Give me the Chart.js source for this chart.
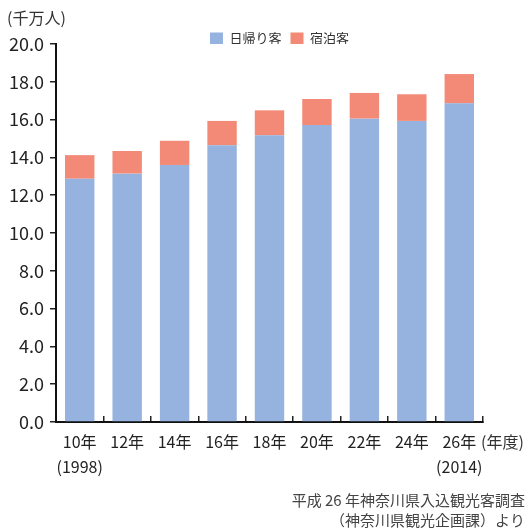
<!DOCTYPE html>
<html>
<head>
<meta charset="utf-8">
<script src="https://cdn.jsdelivr.net/npm/chart.js@4"></script>
<style>
  body { margin: 0; background: #fff; }
  #wrap { width: 529px; height: 531px; position: relative; }
</style>
</head>
<body>
<div id="wrap"><canvas id="visitorChart"></canvas></div>
<script>
const years = [['10年', '(1998)'], '12年', '14年', '16年', '18年', '20年', '22年', '24年', ['26年', '(2014)']];
const dayTrip = [12.87, 13.14, 13.60, 14.64, 15.17, 15.71, 16.05, 15.93, 16.86];
const overnight = [1.25, 1.20, 1.28, 1.29, 1.32, 1.38, 1.36, 1.41, 1.55];
const seriesNames = ['日帰り客', '宿泊客'];
const unitLabel = '(千万人)';
const yearUnit = '(年度)';
const sourceLines = ['平成 26 年神奈川県入込観光客調査', '（神奈川県観光企画課）より'];

const FONT = '"Noto Sans CJK JP", "Noto Sans", sans-serif';

// extra labels around the plot
const extraText = {
  id: 'extraText',
  afterLayout(chart) {
    // legend sits a little right of centre in the original
    chart.legend.left += 10;
    chart.legend.right += 10;
  },
  afterDraw(chart) {
    const ctx = chart.ctx;
    ctx.save();
    ctx.fillStyle = '#333';
    ctx.textBaseline = 'middle';
    ctx.font = '16px ' + FONT;
    ctx.textAlign = 'left';
    ctx.fillText(unitLabel, 7, 18);
    ctx.fillText(yearUnit, 481, 442);
    ctx.fillStyle = '#444';
    ctx.font = '15px ' + FONT;
    ctx.textAlign = 'right';
    ctx.fillText(sourceLines[0], 525, 500);
    ctx.fillText(sourceLines[1], 525, 520);
    ctx.restore();
  }
};

const ctx = document.getElementById('visitorChart').getContext('2d');
new Chart(ctx, {
  type: 'bar',
  data: {
    labels: years,
    datasets: [
      { label: seriesNames[0], data: dayTrip, backgroundColor: '#95B3DE' },
      { label: seriesNames[1], data: overnight, backgroundColor: '#F38A77' }
    ]
  },
  options: {
    responsive: true,
    maintainAspectRatio: false,
    animation: false,
    layout: { padding: { top: 23, right: 46, bottom: 49, left: 0 } },
    datasets: { bar: { barPercentage: 0.62, categoryPercentage: 1 } },
    plugins: {
      legend: {
        position: 'top',
        fullSize: false,
        maxHeight: 21,
        labels: {
          boxWidth: 13,
          boxHeight: 12,
          padding: 9,
          color: '#333',
          font: { size: 13, family: FONT }
        }
      },
      tooltip: { enabled: false }
    },
    scales: {
      x: {
        stacked: true,
        afterFit: s => { s.height = 60; },
        border: { display: true, color: '#111', width: 2 },
        grid: { drawOnChartArea: false, color: '#222', lineWidth: 1.5, tickLength: -6, offset: true },
        ticks: {
          color: '#222',
          padding: 13,
          maxRotation: 0,
          autoSkip: false,
          font: { size: 16, family: FONT, lineHeight: 1.6 }
        }
      },
      y: {
        stacked: true,
        min: 0,
        max: 20,
        afterFit: s => { s.width = 56; },
        border: { display: true, color: '#111', width: 2 },
        grid: { drawOnChartArea: false, color: '#222', lineWidth: 1.5, tickLength: 6 },
        ticks: {
          stepSize: 2,
          color: '#222',
          padding: 6,
          font: { size: 18, family: FONT },
          callback: v => v.toFixed(1)
        }
      }
    }
  },
  plugins: [extraText]
});
</script>
</body>
</html>
